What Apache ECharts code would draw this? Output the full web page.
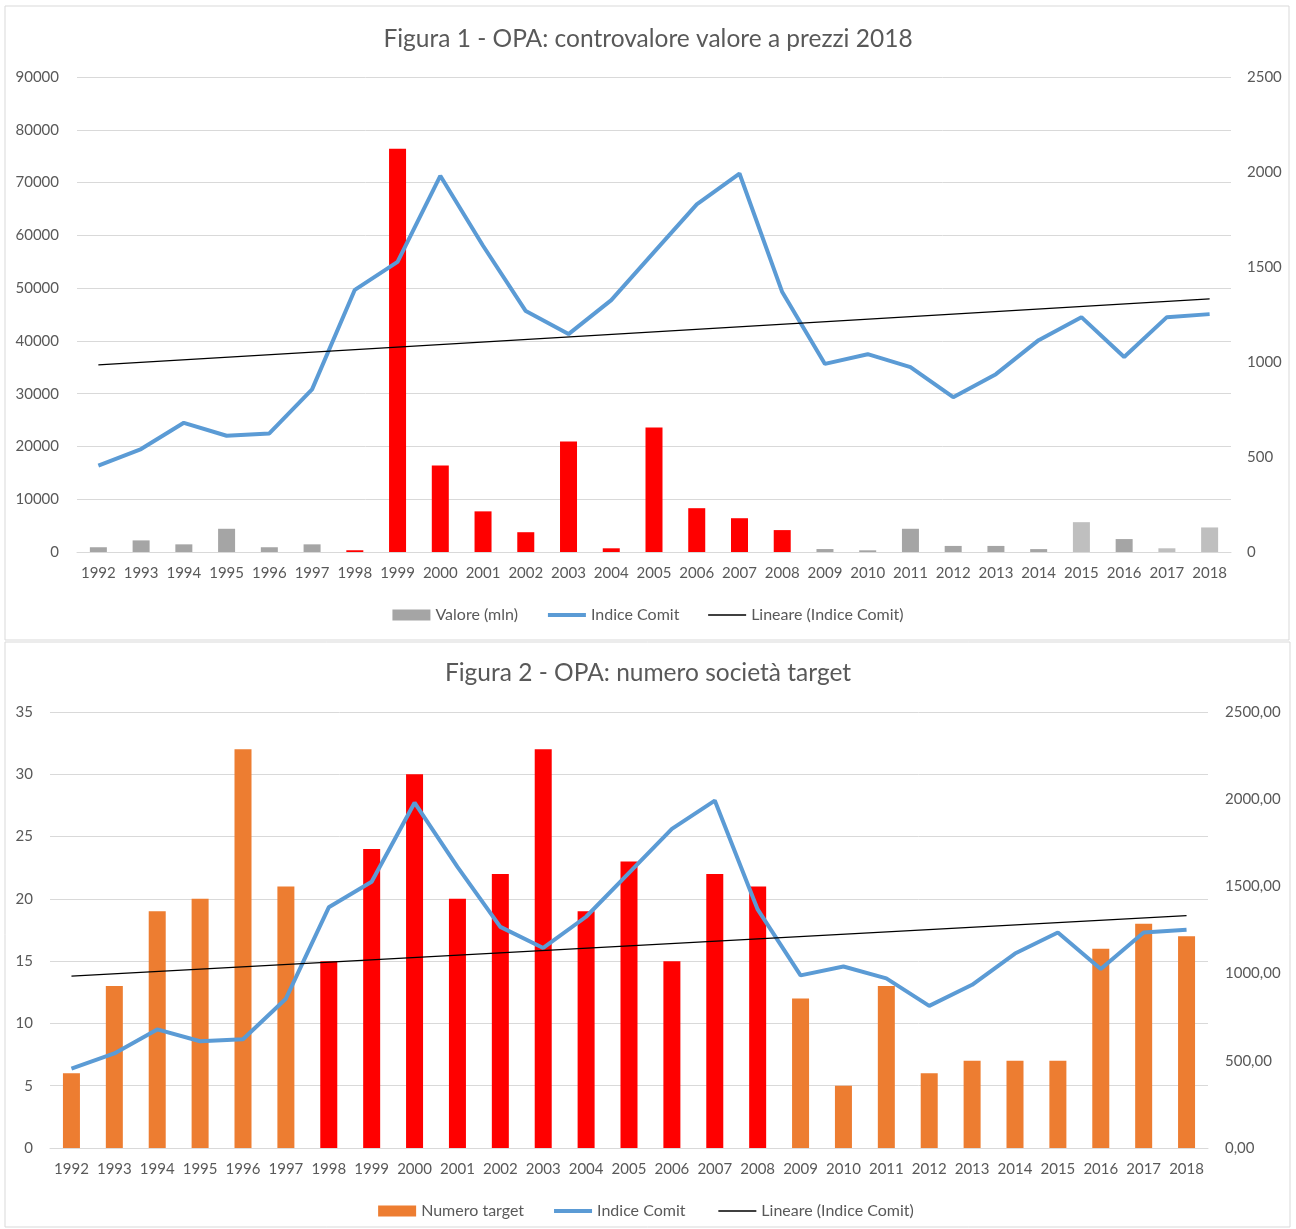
<!DOCTYPE html>
<html style="height: 100%;width:100%">
<head>
<meta charset="utf-8">
</head>
<body style="height: 100%; width:100%; margin:0; background:#fff">
<div id="chart-panel" style="height: 1229px;width: 1296px"></div>
<script type="text/javascript" src="https://fastly.jsdelivr.net/npm/echarts@6/dist/echarts.min.js"></script>
<script type="text/javascript">
// anni
var years = ['1992','1993','1994','1995','1996','1997','1998','1999','2000','2001','2002','2003','2004',
  '2005','2006','2007','2008','2009','2010','2011','2012','2013','2014','2015','2016','2017','2018'];

// Figura 1 - controvalore (mln, prezzi 2018)
var valore = [900, 2200, 1450, 4400, 900, 1450, 330, 76400, 16400, 7700, 3750, 20950, 700,
  23600, 8300, 6400, 4150, 560, 320, 4400, 1150, 1150, 550, 5650, 2450, 700, 4650];

// Indice Comit (asse destro, stessi valori in entrambe le figure)
var indiceComit = [455, 542, 680, 612, 624, 856, 1380, 1527, 1980, 1612, 1268, 1147, 1326,
  1578, 1830, 1992, 1368, 990, 1041, 973, 815, 936, 1115, 1236, 1026, 1236, 1252];

// trend lineare (letto agli estremi)
var lineare = [['1992', 985], ['2018', 1332]];

// Figura 2 - numero società target
var numeroTarget = [6, 13, 19, 20, 32, 21, 15, 24, 30, 20, 22, 32, 19,
  23, 15, 22, 21, 12, 5, 13, 6, 7, 7, 7, 16, 18, 17];

// anni evidenziati
var anniRossi = ['1998','1999','2000','2001','2002','2003','2004','2005','2006','2007','2008'];
var anniChiari = ['2015', '2017', '2018'];

var FONT = 'Lato';
var TXT = '#595959';

var dom = document.getElementById("chart-panel");
var myChart = echarts.init(dom);

function colFig1(p) {
  var y = years[p.dataIndex];
  if (anniRossi.indexOf(y) >= 0) return '#FF0000';
  if (anniChiari.indexOf(y) >= 0) return '#BFBFBF';
  return '#A5A5A5';
}
function colFig2(p) {
  return anniRossi.indexOf(years[p.dataIndex]) >= 0 ? '#FF0000' : '#ED7D31';
}

var xCommon = {
  type: 'category',
  data: years,
  axisLine: { lineStyle: { color: '#D9D9D9' } },
  axisTick: { show: false },
  axisLabel: { color: TXT, fontFamily: FONT, fontSize: 15, margin: 14, interval: 0 }
};
function yAx(pos, max, interval, grid, fmt, margin) {
  return {
    type: 'value', gridIndex: grid, position: pos, min: 0, max: max, interval: interval,
    axisLine: { show: false }, axisTick: { show: false },
    splitLine: { show: pos === 'left', lineStyle: { color: '#D9D9D9', width: 1 } },
    axisLabel: { color: TXT, fontFamily: FONT, fontSize: 15, margin: margin, formatter: fmt }
  };
}
var plain = function (v) { return String(v); };
var virgola = function (v) { return v.toFixed(2).replace('.', ','); };

// voci di legenda
var noSym = { opacity: 0 };
var legendText = { color: TXT, fontFamily: FONT, fontSize: 16 };

var option = {
  backgroundColor: '#fff',
  animation: false,
  graphic: [
    { type: 'rect', shape: { x: 5, y: 6, width: 1284, height: 634 },
      style: { fill: 'none', stroke: '#D9D9D9', lineWidth: 1 }, z: -1 },
    { type: 'rect', shape: { x: 5, y: 642, width: 1285, height: 585 },
      style: { fill: 'none', stroke: '#D9D9D9', lineWidth: 1 }, z: -1 }
  ],
  title: [
    { text: 'Figura 1 - OPA: controvalore valore a prezzi 2018', left: 'center', top: 22,
      textStyle: { color: TXT, fontFamily: FONT, fontSize: 24.5, fontWeight: 'normal' } },
    { text: 'Figura 2 - OPA: numero società target', left: 'center', top: 656,
      textStyle: { color: TXT, fontFamily: FONT, fontSize: 24.5, fontWeight: 'normal' } }
  ],
  legend: [
    { top: 602, left: 'center', itemWidth: 38, itemHeight: 11, itemGap: 28, textStyle: legendText,
      data: [
        { name: 'Valore (mln)', icon: 'rect', itemStyle: { color: '#A5A5A5' } },
        { name: 'Indice Comit', itemStyle: noSym, lineStyle: { width: 4 } },
        { name: 'Lineare (Indice Comit)', itemStyle: noSym, lineStyle: { width: 1.5 } }
      ] },
    { top: 1198, left: 'center', itemWidth: 38, itemHeight: 11, itemGap: 28, textStyle: legendText,
      data: [
        { name: 'Numero target', icon: 'rect', itemStyle: { color: '#ED7D31' } },
        { name: 'Indice Comit ', itemStyle: noSym, lineStyle: { width: 4 } },
        { name: 'Lineare (Indice Comit) ', itemStyle: noSym, lineStyle: { width: 1.5 } }
      ] }
  ],
  grid: [
    { left: 77, right: 65, top: 77, height: 475 },
    { left: 50, right: 88, top: 712, height: 436 }
  ],
  xAxis: [
    Object.assign({ gridIndex: 0 }, xCommon),
    Object.assign({ gridIndex: 1 }, xCommon)
  ],
  yAxis: [
    yAx('left', 90000, 10000, 0, plain, 18),
    yAx('right', 2500, 500, 0, plain, 16),
    yAx('left', 35, 5, 1, plain, 17),
    yAx('right', 2500, 500, 1, virgola, 17)
  ],
  series: [
    { name: 'Valore (mln)', type: 'bar', xAxisIndex: 0, yAxisIndex: 0, barWidth: 17,
      itemStyle: { color: colFig1 }, data: valore },
    { name: 'Indice Comit', type: 'line', xAxisIndex: 0, yAxisIndex: 1, symbol: 'none',
      lineStyle: { color: '#5B9BD5', width: 4 }, itemStyle: { color: '#5B9BD5' }, data: indiceComit },
    { name: 'Lineare (Indice Comit)', type: 'line', xAxisIndex: 0, yAxisIndex: 1, symbol: 'none',
      lineStyle: { color: '#000', width: 1.2 }, itemStyle: { color: '#000' }, data: lineare },

    { name: 'Numero target', type: 'bar', xAxisIndex: 1, yAxisIndex: 2, barWidth: 17,
      itemStyle: { color: colFig2 }, data: numeroTarget },
    { name: 'Indice Comit ', type: 'line', xAxisIndex: 1, yAxisIndex: 3, symbol: 'none',
      lineStyle: { color: '#5B9BD5', width: 4 }, itemStyle: { color: '#5B9BD5' }, data: indiceComit },
    { name: 'Lineare (Indice Comit) ', type: 'line', xAxisIndex: 1, yAxisIndex: 3, symbol: 'none',
      lineStyle: { color: '#000', width: 1.2 }, itemStyle: { color: '#000' }, data: lineare }
  ]
};

myChart.setOption(option);
</script>
</body>
</html>
